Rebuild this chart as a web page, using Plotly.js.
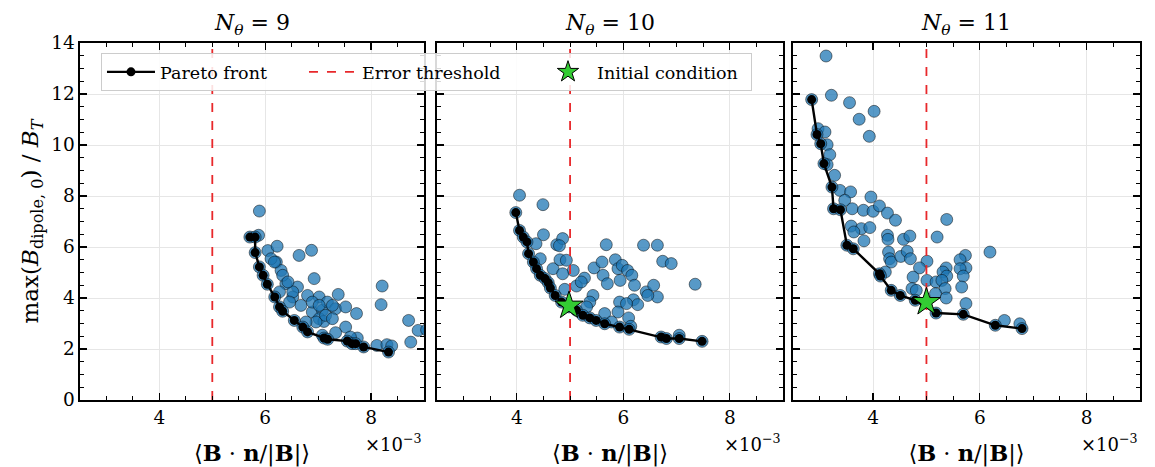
<!DOCTYPE html>
<html>
<head>
<meta charset="utf-8">
<script src="https://cdn.plot.ly/plotly-3.0.1.min.js"></script>
<style>html,body{margin:0;padding:0;background:#fff;}#chart{width:1155px;height:467px;}</style>
</head>
<body>
<div id="chart"></div>
<script>
// x values in units of 1e-3
const panelTitles = ['9', '10', '11'];
const errThreshold = 5.0;
const yRange = [0, 14];
const xRange = [2.5, 9.0];

// N_theta = 9
const cloud9_x = [5.89,5.875,6.05,6.225,6.64,6.875,6.21,6.30,6.925,6.39,6.61,6.80,7.02,7.38,8.21,8.19,6.52,6.675,6.89,7.08,7.175,7.33,7.52,7.725,7.02,7.11,7.52,7.33,7.74,8.11,8.30,8.39,8.71,8.89,8.75,6.52,6.27,6.46,6.96,6.77,7.27,6.11,6.175,6.33,6.43,6.89,7.02,7.14,7.27,7.61,7.08,9.05];
const cloud9_y = [7.41,6.46,5.86,6.03,5.67,5.87,5.41,5.08,4.76,4.56,4.43,4.10,4.04,4.14,4.47,3.74,4.04,3.71,3.45,3.52,3.84,3.58,3.65,3.39,3.19,3.08,2.86,2.64,2.43,2.14,2.17,2.12,3.12,2.73,2.27,4.24,4.24,3.84,3.06,3.06,3.71,5.54,5.41,4.89,4.63,3.84,3.71,3.32,3.19,2.47,2.54,2.75];
const front9_x = [5.71,5.81,5.81,5.89,5.96,6.04,6.18,6.27,6.33,6.55,6.71,6.80,7.11,7.18,7.55,7.64,7.71,7.86,8.33];
const front9_y = [6.39,6.39,5.78,5.22,4.89,4.54,4.04,3.65,3.48,3.12,2.86,2.67,2.43,2.38,2.31,2.21,2.21,2.08,1.88];

// N_theta = 10
const cloud10_x = [4.05,4.49,4.50,4.36,4.75,4.86,4.80,5.68,6.38,6.64,6.74,6.90,7.35,4.44,4.68,4.81,4.93,5.06,4.86,5.27,5.45,5.62,5.60,5.70,5.85,5.90,5.98,6.08,6.16,5.94,6.21,5.12,4.90,5.43,5.37,6.43,6.57,6.64,6.46,6.19,6.27,5.93,6.06,5.90,5.65,6.10,5.78,6.14,7.05,5.31,5.21];
const cloud10_y = [8.03,7.66,6.48,6.13,6.09,6.33,6.05,6.09,6.07,6.07,5.44,5.35,4.54,5.54,5.15,5.50,5.48,5.08,4.95,4.78,5.18,4.89,5.41,4.56,5.50,5.15,5.28,5.08,4.89,4.69,4.50,4.47,4.34,4.10,3.84,4.24,4.50,4.04,4.10,3.93,3.74,3.84,3.78,3.45,3.39,3.22,3.06,2.89,2.54,3.65,4.63];
const front10_x = [3.98,4.05,4.12,4.19,4.22,4.31,4.37,4.44,4.53,4.59,4.63,4.72,4.84,4.98,5.12,5.24,5.37,5.49,5.65,5.93,6.11,6.71,6.81,7.05,7.48];
const front10_y = [7.35,6.65,6.39,6.20,5.74,5.41,5.15,4.89,4.76,4.60,4.39,4.10,3.84,3.65,3.52,3.32,3.22,3.12,2.99,2.86,2.77,2.47,2.41,2.41,2.30];
const init10_x = [4.98];
const init10_y = [3.70];

// N_theta = 11
const cloud11_x = [3.12,3.22,3.56,4.02,3.74,3.93,2.97,3.10,3.14,3.19,3.14,3.28,3.38,3.58,3.47,3.61,3.96,3.82,4.00,4.12,4.27,4.42,5.38,3.59,3.78,3.94,3.64,3.83,4.27,4.28,4.57,4.69,5.20,6.19,4.29,4.31,4.34,4.52,4.64,4.70,5.01,4.87,5.73,5.63,5.74,5.63,5.69,5.37,5.31,5.38,4.23,4.75,5.01,5.18,5.29,5.35,4.73,4.81,5.17,5.37,5.66,5.74,6.46,6.75];
const cloud11_y = [13.49,11.95,11.66,11.32,11.01,10.34,10.64,10.51,10.01,9.62,9.23,8.81,8.22,8.16,7.83,7.50,7.96,7.44,7.40,7.61,7.33,7.05,7.08,6.82,6.72,6.76,6.59,6.24,6.46,6.30,6.30,6.43,6.39,5.80,5.80,5.54,5.41,5.63,5.83,5.54,5.44,5.18,5.67,5.50,5.18,5.15,4.86,5.18,5.02,4.86,5.02,4.82,4.69,4.63,4.69,4.37,4.37,4.30,4.17,4.00,4.43,3.78,3.12,2.99];
const front11_x = [2.85,2.95,3.02,3.08,3.23,3.26,3.39,3.51,3.63,4.12,4.14,4.34,4.51,4.79,5.18,5.69,6.29,6.79];
const front11_y = [11.78,10.41,10.05,9.27,8.35,7.50,7.46,6.07,5.93,4.95,4.86,4.30,4.10,3.91,3.41,3.36,2.93,2.80];
const init11_x = [5.00];
const init11_y = [3.84];

const panels = [
  {cx: cloud9_x, cy: cloud9_y, fx: front9_x, fy: front9_y, ix: [], iy: []},
  {cx: cloud10_x, cy: cloud10_y, fx: front10_x, fy: front10_y, ix: init10_x, iy: init10_y},
  {cx: cloud11_x, cy: cloud11_y, fx: front11_x, fy: front11_y, ix: init11_x, iy: init11_y}
];

const FONT = 'DejaVu Serif';
const traces = [];
panels.forEach((p, i) => {
  const xa = i === 0 ? 'x' : 'x' + (i + 1);
  const ya = i === 0 ? 'y' : 'y' + (i + 1);
  traces.push({
    x: p.cx.concat(p.fx), y: p.cy.concat(p.fy), xaxis: xa, yaxis: ya,
    type: 'scatter', mode: 'markers', showlegend: false, hoverinfo: 'skip',
    marker: {size: 12, color: 'rgba(31,119,180,0.75)', line: {color: 'rgba(0,0,0,0.6)', width: 0.8}}
  });
  traces.push({
    x: p.fx, y: p.fy, xaxis: xa, yaxis: ya, type: 'scatter', mode: 'lines+markers',
    name: 'Pareto front', legendgroup: 'pf', showlegend: i === 0, legendrank: 1, legendwidth: 139,
    line: {color: 'black', width: 2.4}, marker: {size: 9, color: 'black'}
  });
  traces.push({
    x: [errThreshold, errThreshold], y: yRange, xaxis: xa, yaxis: ya, type: 'scatter', mode: 'lines',
    name: 'Error threshold', legendgroup: 'et', showlegend: i === 0, legendrank: 2, legendwidth: 172,
    line: {color: '#e8282b', width: 1.8, dash: 'dash'}
  });
  if (i > 0) {
    traces.push({
      x: p.ix, y: p.iy, xaxis: xa, yaxis: ya, type: 'scatter', mode: 'markers',
      name: 'Initial condition', legendgroup: 'ic', showlegend: i === 1, legendrank: 3, legendwidth: 149,
      marker: {symbol: 'star', size: 21, color: '#33cc33', line: {color: 'black', width: 1}}
    });
  }
});

const domains = [[0, 0.3245], [0.3368, 0.6632], [0.6726, 1]];
const layout = {
  width: 1155, height: 467,
  margin: {l: 80, r: 15, t: 43, b: 67},
  paper_bgcolor: 'white', plot_bgcolor: 'white',
  font: {family: FONT, color: 'black', size: 18},
  showlegend: true,
  legend: {
    orientation: 'h', x: 0.0198, y: 0.972, xanchor: 'left', yanchor: 'top',
    itemwidth: 48,
    bgcolor: 'rgba(255,255,255,0.85)', bordercolor: '#cccccc', borderwidth: 1,
    font: {family: FONT, size: 17.5, color: 'black'}, traceorder: 'normal'
  },
  annotations: [],
};

for (let i = 0; i < 3; i++) {
  const sfx = i === 0 ? '' : String(i + 1);
  layout['xaxis' + sfx] = {
    domain: domains[i], range: xRange, anchor: 'y' + sfx,
    tickvals: [4, 6, 8], ticktext: ['4', '6', '8'],
    ticks: 'inside', ticklen: 7, tickwidth: 1.2, tickcolor: 'black',
    mirror: 'allticks', showline: true, linecolor: 'black', linewidth: 1.6,
    showgrid: true, gridcolor: '#e6e6e6', gridwidth: 1, zeroline: false,
    tickfont: {family: FONT, size: 18.5},
    minor: {dtick: 0.5, tick0: 0, ticks: 'inside', ticklen: 4, tickcolor: 'black', tickwidth: 1, showgrid: false},
    title: {text: '⟨<b>B</b> · <b>n</b>/|<b>B</b>|⟩', font: {family: FONT, size: 22.5}, standoff: 26}
  };
  layout['yaxis' + sfx] = {
    domain: [0, 1], range: yRange, anchor: 'x' + sfx,
    tickvals: [0, 2, 4, 6, 8, 10, 12, 14], showticklabels: i === 0,
    ticks: 'inside', ticklen: 7, tickwidth: 1.2, tickcolor: 'black',
    mirror: 'allticks', showline: true, linecolor: 'black', linewidth: 1.6,
    showgrid: true, gridcolor: '#e6e6e6', gridwidth: 1, zeroline: false,
    tickfont: {family: FONT, size: 18.5},
    minor: {dtick: 0.5, tick0: 0, ticks: 'inside', ticklen: 4, tickcolor: 'black', tickwidth: 1, showgrid: false}
  };
  if (i === 0) {
    layout.yaxis.title = {text: 'max(<i>B</i><sub>dipole, 0</sub>) / <i>B</i><sub><i>T</i></sub>', font: {family: FONT, size: 23}, standoff: 6};
  }
  layout.annotations.push({
    xref: 'x' + sfx + ' domain', yref: 'paper', x: 0.5, y: 1, yanchor: 'bottom', xanchor: 'center', yshift: 2,
    text: '<i>N</i><sub><i>θ</i></sub> = ' + panelTitles[i], showarrow: false, font: {family: FONT, size: 22}
  });
  layout.annotations.push({
    xref: 'x' + sfx + ' domain', yref: 'paper', x: 1, y: 0, xanchor: 'right', yanchor: 'top', yshift: -29,
    text: '×10<sup>−3</sup>', showarrow: false, font: {family: FONT, size: 18}
  });
}

Plotly.newPlot('chart', traces, layout, {staticPlot: true});
</script>
</body>
</html>
